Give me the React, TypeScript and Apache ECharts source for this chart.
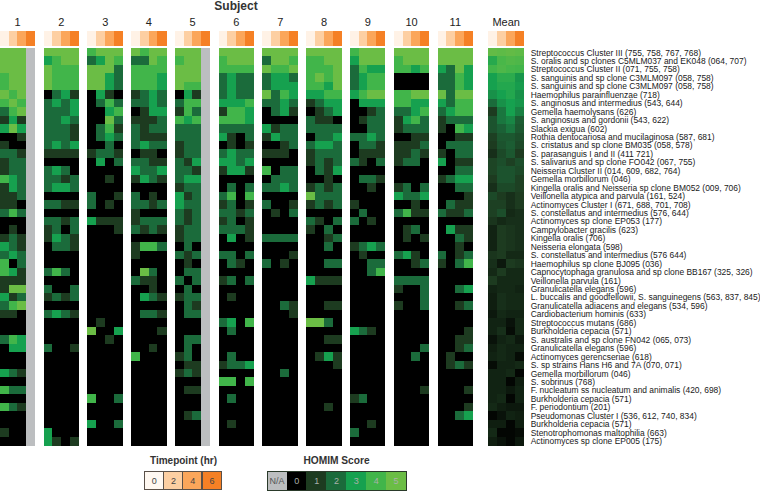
import React, { useEffect, useRef } from "react";
import * as echarts from "echarts";

const N = -1; // not available
const FONT = '"Liberation Sans", Arial, sans-serif';

const subjects = ["1","2","3","4","5","6","7","8","9","10","11","Mean"];
const timepoints = ["0","2","4","6"];
const timeColors = ["#fff2e6","#fdcfa2","#fba65a","#f58025"];
const legendTimeColors = ["#fff8f1","#fdcfa2","#fba65a","#f58025"];
const scoreLabels = ["N/A","0","1","2","3","4","5"];
const scoreColors = ["#bcbec0","#000000","#1d3b20","#1b6b3b","#16a14f","#41b54a","#6bbd45"];

const species = [
"Streptococcus Cluster III (755, 758, 767, 768)",
"S. oralis and sp clones C5MLM037 and EK048 (064, 707)",
"Streptococcus Cluster II (071, 755, 758)",
"S. sanguinis and sp clone C3MLM097 (058, 758)",
"S. sanguinis and sp clone C3MLM097 (058, 758)",
"Haemophilus parainfluenzae (718)",
"S. anginosus and intermedius (543, 644)",
"Gemella haemolysans (626)",
"S. anginosus and gordonii (543, 622)",
"Slackia exigua (602)",
"Rothia dentocariosa and mucilaginosa (587, 681)",
"S. cristatus and sp clone BM035 (058, 578)",
"S. parasanguis I and II (411 721)",
"S. salivarius and sp clone FO042 (067, 755)",
"Neisseria Cluster II (014, 609, 682, 764)",
"Gemella morbillorum (046)",
"Kingella oralis and Neisseria sp clone BM052 (009, 706)",
"Veillonella atypica and parvula (161, 524)",
"Actinomyces Cluster I (671, 688, 701, 708)",
"S. constellatus and intermedius (576, 644)",
"Actinomyces sp clone EP053 (177)",
"Campylobacter gracilis (623)",
"Kingella oralis (706)",
"Neisseria elongata (598)",
"S. constellatus and intermedius (576 644)",
"Haemophilus sp clone BJ095 (036)",
"Capnocytophaga granulosa and sp clone BB167 (325, 326)",
"Veillonella parvula (161)",
"Granulicatella elegans (596)",
"L. buccalis and goodfellowii, S. sanguinegens (563, 837, 845)",
"Granulicatella adiacens and elegans (534, 596)",
"Cardiobacterium hominis (633)",
"Streptococcus mutans (686)",
"Burkholderia cepacia (571)",
"S. australis and sp clone FN042 (065, 073)",
"Granulicatella elegans (596)",
"Actinomyces gerencseriae (618)",
"S. sp strains Hans H6 and 7A (070, 071)",
"Gemella morbillorum (046)",
"S. sobrinus (768)",
"F. nucleatum ss nucleatum and animalis (420, 698)",
"Burkholderia cepacia (571)",
"F. periodontium (201)",
"Pseudomonas Cluster I (536, 612, 740, 834)",
"Burkholderia cepacia (571)",
"Stenotrophomonas maltophilia (663)",
"Actinomyces sp clone EP005 (175)",
];

const subject1 = [[5,5,5,N],[5,5,5,N],[5,5,5,N],[4,5,5,N],[4,5,5,N],[5,4,5,N],[4,5,4,N],[2,4,5,N],[1,3,1,N],[3,5,3,N],[0,0,1,N],[1,0,0,N],[2,2,1,N],[1,2,2,N],[1,2,2,N],[4,3,2,N],[1,3,2,N],[1,1,2,N],[1,1,0,N],[2,4,2,N],[0,0,0,N],[0,1,0,N],[1,2,1,N],[3,2,1,N],[2,3,2,N],[4,0,2,N],[4,3,1,N],[1,1,1,N],[1,5,5,N],[3,1,2,N],[2,4,5,N],[1,1,0,N],[0,0,0,N],[0,0,0,N],[2,4,3,N],[0,3,3,N],[0,0,0,N],[0,0,0,N],[3,2,1,N],[0,0,0,N],[4,2,2,N],[0,0,0,N],[4,2,1,N],[0,0,0,N],[0,0,0,N],[1,0,0,N],[0,0,0,N]];
const subject2 = [[5,5,5,5],[3,4,5,5],[5,4,4,4],[5,4,4,4],[5,4,4,4],[0,2,3,1],[2,3,2,3],[2,2,2,3],[2,2,3,2],[2,2,2,1],[2,2,2,1],[2,3,2,3],[1,1,1,1],[0,0,0,0],[2,3,2,0],[2,2,1,2],[2,3,3,2],[0,0,0,0],[2,2,1,1],[0,0,0,0],[2,2,1,2],[1,2,0,2],[1,3,2,1],[0,2,2,1],[0,0,0,0],[0,0,0,0],[2,4,2,0],[0,0,0,0],[2,0,0,2],[1,2,1,2],[0,0,0,0],[2,3,2,1],[0,0,0,0],[0,0,0,0],[0,0,0,0],[2,0,0,1],[0,0,0,0],[0,0,0,0],[0,0,0,0],[0,0,0,0],[0,0,0,0],[0,0,0,0],[0,0,0,0],[0,0,0,0],[0,0,0,0],[3,0,0,0],[3,1,0,1]];
const subject3 = [[4,5,5,5],[2,3,5,4],[5,5,5,2],[5,5,3,2],[5,5,3,2],[0,3,1,0],[0,2,4,2],[0,0,3,4],[0,0,5,2],[0,2,4,1],[0,2,3,2],[0,0,2,0],[1,2,2,1],[0,3,0,2],[0,0,0,0],[0,0,1,0],[0,0,0,0],[2,0,0,1],[2,0,1,0],[0,0,0,0],[3,1,1,1],[0,0,0,1],[0,0,0,0],[0,0,0,0],[0,0,0,0],[0,0,0,0],[0,0,0,0],[0,0,0,0],[0,0,0,0],[0,0,0,0],[0,0,0,0],[0,0,0,0],[0,1,0,0],[5,0,0,3],[0,0,1,0],[0,0,0,0],[0,0,0,0],[0,0,0,0],[0,0,0,0],[0,0,0,0],[0,0,0,0],[4,0,0,2],[0,0,0,0],[0,0,0,0],[3,0,0,2],[0,0,0,0],[0,0,0,0]];
const subject4 = [[5,4,5,5],[2,2,5,4],[4,4,4,4],[4,4,4,3],[4,4,4,3],[1,2,3,2],[2,2,3,2],[0,1,3,3],[1,1,1,2],[2,1,2,2],[2,1,1,1],[2,3,2,2],[0,1,1,0],[2,2,1,1],[3,2,2,3],[1,3,2,1],[0,0,0,0],[2,0,1,0],[2,2,1,2],[1,0,0,0],[1,2,2,2],[2,1,2,1],[0,0,0,0],[1,4,4,2],[1,0,0,0],[0,0,0,0],[0,5,2,0],[2,1,1,0],[0,0,1,0],[0,3,2,1],[0,0,0,0],[0,2,2,1],[0,0,0,0],[0,0,0,1],[0,0,0,0],[0,0,1,0],[4,0,0,0],[0,0,0,0],[0,0,0,0],[0,0,0,0],[0,0,0,0],[0,0,0,0],[0,0,0,0],[0,0,0,0],[0,0,0,0],[0,0,0,0],[0,0,0,0]];
const subject5 = [[5,5,5,N],[4,5,5,N],[5,5,5,N],[5,5,5,N],[5,4,4,N],[0,3,1,N],[2,4,4,N],[1,4,2,N],[4,3,4,N],[2,2,2,N],[2,2,2,N],[1,2,2,N],[1,2,2,N],[2,1,3,N],[2,2,1,N],[2,3,3,N],[1,2,2,N],[3,1,2,N],[3,2,2,N],[2,1,2,N],[2,1,2,N],[1,2,2,N],[1,2,2,N],[0,2,0,N],[2,1,2,N],[0,1,0,N],[0,2,2,N],[2,0,2,N],[0,2,0,N],[1,2,2,N],[0,2,1,N],[0,2,2,N],[0,0,0,N],[0,0,0,N],[0,2,2,N],[0,2,0,N],[1,2,0,N],[0,1,1,N],[1,2,1,N],[0,0,0,N],[0,1,1,N],[0,0,0,N],[0,0,0,N],[0,1,2,N],[0,0,0,N],[0,0,0,N],[0,0,0,N]];
const subject6 = [[5,5,5,5],[4,5,5,5],[4,4,4,4],[2,3,2,2],[2,3,2,2],[2,3,2,2],[3,3,3,4],[1,4,4,3],[4,4,4,3],[2,2,2,2],[3,1,0,2],[0,1,0,1],[2,3,2,2],[3,3,2,3],[1,3,3,1],[0,0,0,0],[0,2,0,2],[2,4,0,4],[1,2,0,1],[2,2,1,2],[1,2,0,1],[2,2,2,1],[0,3,0,1],[0,0,0,0],[2,2,0,2],[0,2,1,0],[0,0,0,0],[1,2,0,2],[0,0,0,0],[0,1,0,0],[0,0,0,0],[0,0,0,0],[2,3,0,4],[0,2,0,0],[0,0,0,0],[0,0,0,0],[0,2,0,0],[1,2,2,3],[0,0,0,0],[4,4,0,4],[0,0,0,0],[0,2,0,0],[0,0,0,0],[0,0,0,0],[0,1,0,0],[0,0,0,0],[0,0,0,0]];
const subject7 = [[5,5,5,5],[2,5,5,4],[5,4,4,5],[2,3,3,2],[2,3,3,3],[5,2,4,3],[2,2,3,2],[0,2,3,1],[0,0,0,0],[3,1,2,2],[1,3,2,2],[0,0,1,2],[1,1,1,0],[0,0,0,0],[4,0,2,2],[0,2,2,2],[2,2,3,2],[0,0,0,0],[2,0,0,1],[0,1,0,2],[0,0,0,0],[0,0,0,0],[2,2,2,2],[0,0,0,0],[0,0,0,1],[2,0,1,0],[0,0,0,0],[0,0,0,0],[0,0,0,0],[0,0,0,0],[0,0,2,1],[0,0,0,1],[0,0,0,0],[0,0,0,0],[0,0,0,0],[0,0,0,0],[0,0,0,0],[0,0,0,0],[0,0,2,0],[0,0,0,0],[0,0,0,0],[0,0,0,0],[0,0,0,0],[0,0,0,0],[0,0,0,0],[0,0,0,0],[0,0,0,0]];
const subject8 = [[5,5,5,5],[4,4,5,5],[4,4,4,5],[4,5,4,5],[4,4,3,5],[3,3,4,4],[1,2,3,3],[0,1,2,3],[2,1,1,0],[2,2,2,2],[0,2,2,3],[2,3,3,2],[1,2,2,2],[1,2,1,2],[0,2,1,3],[0,0,1,0],[1,2,1,2],[5,2,2,2],[1,2,1,2],[0,0,0,0],[2,1,0,2],[1,0,2,0],[0,0,1,2],[0,0,2,0],[0,0,0,0],[0,0,2,2],[0,0,0,0],[3,1,1,1],[0,0,0,0],[0,0,0,0],[0,0,1,1],[0,0,0,0],[5,5,2,0],[0,0,0,0],[0,0,1,1],[0,0,0,0],[0,1,3,1],[0,0,0,1],[0,0,0,0],[0,0,0,0],[0,0,0,0],[0,0,0,0],[0,0,1,0],[0,0,0,0],[0,0,0,0],[0,0,0,0],[0,0,0,0]];
const subject9 = [[4,5,5,5],[3,5,5,5],[2,4,3,3],[2,3,4,4],[2,3,4,4],[3,4,5,5],[0,3,3,3],[0,0,1,2],[0,1,2,2],[0,0,2,2],[2,2,3,2],[0,2,2,1],[0,1,1,1],[2,1,0,2],[0,0,0,0],[0,2,2,1],[0,0,1,0],[0,0,0,0],[1,0,0,0],[0,2,0,0],[2,0,1,0],[0,0,0,0],[0,0,0,0],[1,2,3,2],[0,1,0,0],[0,0,2,2],[0,0,2,4],[0,0,0,0],[0,0,0,0],[0,0,0,0],[0,0,0,0],[0,0,0,0],[0,0,0,0],[3,2,1,0],[0,0,0,0],[0,0,0,0],[0,0,0,0],[0,0,0,0],[0,0,0,0],[0,0,0,0],[0,0,0,0],[1,2,0,0],[0,0,0,0],[0,0,0,0],[0,0,1,0],[2,0,0,0],[0,0,0,0]];
const subject10 = [[5,5,5,5],[4,5,5,5],[4,4,3,4],[0,0,0,0],[0,0,0,0],[4,4,5,5],[4,4,3,3],[2,2,3,4],[1,3,4,2],[1,2,2,2],[0,0,1,1],[1,1,1,2],[1,1,2,1],[1,2,2,0],[0,0,0,0],[0,0,0,0],[1,2,0,2],[3,2,2,3],[0,0,1,0],[2,4,1,1],[0,0,0,0],[0,1,2,0],[0,1,0,1],[0,0,0,0],[2,3,1,0],[0,0,1,2],[0,0,0,0],[2,2,2,2],[1,0,0,2],[0,0,0,2],[1,0,0,2],[0,0,0,0],[0,0,0,0],[0,0,0,0],[0,0,0,0],[0,0,0,2],[0,0,2,0],[0,0,0,0],[0,0,0,0],[0,0,0,0],[0,0,0,1],[0,0,0,0],[0,0,0,0],[0,0,0,0],[0,0,0,0],[0,0,0,0],[0,0,0,0]];
const subject11 = [[5,5,5,5],[5,5,5,5],[3,2,5,3],[2,2,4,3],[2,2,4,3],[5,2,5,5],[3,2,4,4],[2,3,4,4],[1,2,2,2],[1,0,4,3],[0,0,1,1],[0,2,2,2],[1,0,2,2],[3,0,1,1],[0,0,2,2],[1,2,3,3],[0,0,2,2],[0,0,0,1],[0,2,1,1],[2,1,1,2],[0,0,0,0],[0,3,1,1],[0,0,2,1],[0,0,1,0],[2,0,1,2],[1,0,2,4],[0,0,0,0],[0,0,0,0],[0,0,2,3],[0,0,0,0],[0,0,1,2],[0,0,0,0],[0,0,0,0],[0,0,0,1],[0,0,1,1],[0,0,1,2],[0,1,0,0],[0,1,2,1],[0,0,0,0],[0,0,0,0],[0,0,0,1],[0,0,0,0],[0,0,0,1],[0,0,2,3],[0,0,0,0],[0,0,0,0],[0,0,0,0]];
const mean = [[4.8,4.7,4.8,4.7],[3.4,4.2,4.4,4.3],[4,4.3,4.1,4],[3,3.5,3.5,2.8],[3,3.3,3.3,2.9],[2.7,3,3.3,2.7],[2,2.7,3,2.8],[1,2.2,3,2.4],[1.5,2.2,2.5,1.7],[1.5,1.8,2.2,1.6],[1.1,1.6,1.6,1.4],[1,1.5,1.7,1.3],[0.8,1.3,1.6,1],[1.2,1.4,1.1,1.4],[1.2,1.5,1.5,1.3],[1,1.5,1.5,1.1],[0.8,1.3,1.3,1.1],[1.3,1,0.8,1],[1.1,1.1,0.8,1],[1.1,1.4,0.7,0.8],[0.9,0.7,0.8,0.8],[0.6,1,0.9,0.8],[0.6,1,0.9,0.8],[0.6,1,0.9,0.8],[0.9,1,0.7,0.7],[0.8,0.4,1,0.9],[0.7,1,0.7,0.7],[1,0.7,0.7,0.7],[0.6,0.7,0.7,0.6],[0.5,0.8,0.7,0.7],[0.5,0.8,0.7,0.7],[0.4,0.7,0.6,0.6],[0.6,0.6,0.3,0.7],[0.6,0.8,0.2,0.7],[0.3,0.6,0.7,0.4],[0.5,0.7,0.6,0.6],[0.6,0.7,0.6,0.2],[0.2,0.6,0.6,0.7],[0.6,0.6,0.7,0.1],[0.6,0.6,0.1,0.5],[0.6,0.6,0.4,0.6],[0.6,0.7,0.1,0.6],[0.7,0.5,0.4,0.4],[0.1,0.3,0.6,0.5],[0.5,0.5,0.1,0.5],[0.7,0.1,0.1,0.2],[0.5,0.3,0.1,0.4]];
const panels = [subject1,subject2,subject3,subject4,subject5,subject6,subject7,subject8,subject9,subject10,subject11,mean];

const panelLefts = [0,43.8,87.7,131.3,175,218.8,262.7,306.5,350.2,394,437.8,488.7];
const PANEL_W = 35;

function buildOption() {
  const grid: any[] = [], xAxis: any[] = [], yAxis: any[] = [], series: any[] = [], graphic: any[] = [];
  const timeIdx: number[] = [], scoreIdx: number[] = [];
  const add = (g: any, xs: string[], ys: string[], y: any, data: any[], extra: any = {}) => {
    const idx = grid.length;
    grid.push({ outerBoundsMode: "none", ...g });
    xAxis.push({ type: "category", gridIndex: idx, data: xs, show: false });
    yAxis.push({ type: "category", gridIndex: idx, data: ys, inverse: true, axisLine:{show:false}, axisTick:{show:false}, axisLabel:{show:false}, splitLine:{show:false}, ...y });
    series.push({ type: "heatmap", xAxisIndex: idx, yAxisIndex: idx, data, progressive: 0, emphasis:{disabled:true}, ...extra });
    return idx;
  };
  panels.forEach((rows, p) => {
    const left = panelLefts[p];
    timeIdx.push(add({ left, width: PANEL_W, top: 31, height: 15 }, timepoints, ["t"], {},
      timepoints.map((_, i) => [i,0,i])));
    const data: any[] = [];
    rows.forEach((r, y) => r.forEach((v, x) => data.push([x,y,v])));
    const yExtra = p === panels.length - 1
      ? { position: "right", axisLabel: { show:true, interval:0, margin:7, fontSize:8.45, lineHeight:8.4, color:"#1a1a1a", fontFamily:FONT } }
      : {};
    scoreIdx.push(add({ left, width: PANEL_W, top: 48.3, height: 397 }, timepoints, species, yExtra, data));
    graphic.push({ type:"text", x:left+PANEL_W/2, y:22, style:{ text:subjects[p], fontSize:11, fontFamily:FONT, fill:"#222", align:"center", verticalAlign:"middle" } });
  });
  graphic.push({ type:"text", x:236, y:6, style:{ text:"Subject", fontSize:12, fontWeight:"bold", fontFamily:FONT, fill:"#333", align:"center", verticalAlign:"middle" } });
  graphic.push({ type:"text", x:183.5, y:460, style:{ text:"Timepoint (hr)", fontSize:10, fontWeight:"bold", fontFamily:FONT, fill:"#333", align:"center", verticalAlign:"middle" } });
  graphic.push({ type:"text", x:336.5, y:460, style:{ text:"HOMIM Score", fontSize:10.2, fontWeight:"bold", fontFamily:FONT, fill:"#333", align:"center", verticalAlign:"middle" } });

  const legendTimeIdx = add({ left:144.5, width:77, top:471.5, height:18 }, timepoints, ["t"], {},
    timepoints.map((_, i) => [i,0,i]),
    { itemStyle:{ borderColor:"#5a5048", borderWidth:1.2 },
      label:{ show:true, fontSize:9, color:"#444", fontFamily:FONT, formatter:(q:any)=>timepoints[q.value[0]] } });
  const legendScoreData: any[] = scoreLabels.map((_, i) => [i,0,i-1]);
  legendScoreData[0] = { value:[0,0,-1], label:{ color:"#555" } };
  scoreIdx.push(add({ left:267, width:139, top:471, height:19, show:true, borderColor:"#2a3a2a", borderWidth:1, backgroundColor:"transparent", z:5 }, scoreLabels, ["s"], {},
    legendScoreData,
    { label:{ show:true, fontSize:9, fontFamily:FONT, formatter:(q:any)=>scoreLabels[q.value[0]], color:"#aab0aa" } }));

  const visualMap = [
    { type:"continuous", show:false, min:-1, max:5, dimension:2, seriesIndex:scoreIdx, inRange:{ color:scoreColors } },
    { type:"continuous", show:false, min:0, max:3, dimension:2, seriesIndex:timeIdx, inRange:{ color:timeColors } },
    { type:"continuous", show:false, min:0, max:3, dimension:2, seriesIndex:[legendTimeIdx], inRange:{ color:legendTimeColors } },
  ];
  return { animation:false, backgroundColor:"#ffffff", grid, xAxis, yAxis, series, graphic, visualMap };
}

export default function App() {
  const ref = useRef<HTMLDivElement>(null);
  useEffect(() => {
    const chart = echarts.init(ref.current!, undefined, { renderer:"svg", width:760, height:491 });
    chart.setOption(buildOption() as any);
    const svg = ref.current!.querySelector("svg");
    if (svg) svg.style.shapeRendering = "crispEdges";
    return () => chart.dispose();
  }, []);
  return <div ref={ref} style={{ position:"absolute", left:0, top:0, width:760, height:491 }} />;
}
